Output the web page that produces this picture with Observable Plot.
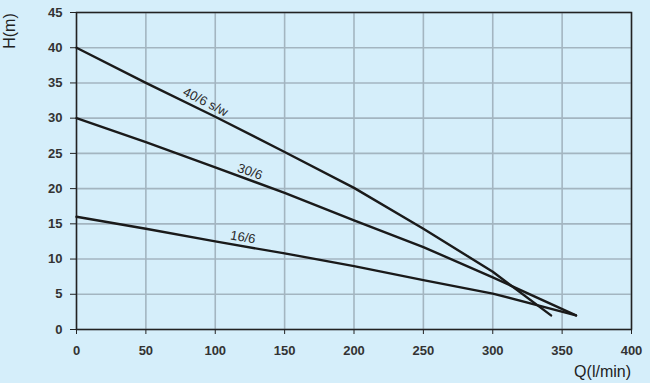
<!DOCTYPE html>
<html>
<head>
<meta charset="utf-8">
<script src="https://cdn.jsdelivr.net/npm/d3@7"></script>
<script src="https://cdn.jsdelivr.net/npm/@observablehq/plot@0.6"></script>
<style>
  html, body { margin: 0; padding: 0; background: #d5eefa; }
  #chart { width: 650px; height: 383px; overflow: hidden; }
</style>
</head>
<body>
<div id="chart"></div>
<script>
// Flow Q (l/min) and head H (m) per pump model
const q40 = [0, 50, 100, 150, 200, 250, 300, 342];
const h40 = [40, 35, 30.2, 25.2, 20.1, 14.3, 8.2, 2];
const q30 = [0, 50, 100, 150, 200, 250, 300, 360];
const h30 = [30, 26.6, 23.0, 19.4, 15.5, 11.7, 7.4, 2];
const q16 = [0, 50, 100, 150, 200, 250, 300, 360];
const h16 = [16, 14.3, 12.5, 10.8, 9.0, 7.0, 5.1, 2];

const seriesNames = ["40/6 s/w", "30/6", "16/6"];
const labelQ = [93, 125, 120];
const labelH = [32.3, 22.4, 13.1];

const xTicks = [0, 50, 100, 150, 200, 250, 300, 350, 400];
const yTicks = [0, 5, 10, 15, 20, 25, 30, 35, 40, 45];

const rows = [];
[[q40, h40], [q30, h30], [q16, h16]].forEach(([qs, hs], i) => {
  qs.forEach((q, j) => rows.push({series: seriesNames[i], q, h: hs[j]}));
});
const labels = seriesNames.map((name, i) => ({name, q: labelQ[i], h: labelH[i]}));
const angles = [27, 19.5, 10];

const chart = Plot.plot({
  width: 650,
  height: 383,
  marginLeft: 76,
  marginRight: 19,
  marginTop: 12,
  marginBottom: 54,
  style: {background: "#d5eefa", fontFamily: "Liberation Sans, Arial, sans-serif", fontSize: "13px", color: "#222"},
  x: {domain: [0, 400], ticks: xTicks, label: null},
  y: {domain: [0, 45], ticks: yTicks, label: null},
  marks: [
    Plot.gridX(xTicks, {stroke: "#a3b5c0", strokeOpacity: 1, strokeWidth: 1.6}),
    Plot.gridY(yTicks, {stroke: "#a3b5c0", strokeOpacity: 1, strokeWidth: 1.6}),
    Plot.frame({stroke: "#222", strokeWidth: 1.5}),
    Plot.axisX(xTicks, {tickSize: 5, tickPadding: 11, stroke: "#222", fill: "#333", fontSize: 13, fontWeight: "bold", label: null}),
    Plot.axisY(yTicks, {tickSize: 6, tickPadding: 8, stroke: "#222", fill: "#333", fontSize: 13, fontWeight: "bold", label: null}),
    Plot.line(rows, {x: "q", y: "h", z: "series", stroke: "#1a1a1a", strokeWidth: 2.4}),
    ...labels.map((d, i) => Plot.text([d], {x: "q", y: "h", text: "name", rotate: angles[i], fill: "#2a2a2a", fontSize: 13}))
  ]
});

// axis titles drawn as text in the SVG
const svg = d3.select(chart);
svg.append("text")
  .attr("transform", "translate(15,31) rotate(-90)")
  .attr("text-anchor", "middle")
  .attr("font-size", 16)
  .attr("fill", "#222")
  .text("H(m)");
svg.append("text")
  .attr("x", 631)
  .attr("y", 377)
  .attr("text-anchor", "end")
  .attr("font-size", 16)
  .attr("fill", "#222")
  .text("Q(l/min)");

document.getElementById("chart").appendChild(chart);
</script>
</body>
</html>
